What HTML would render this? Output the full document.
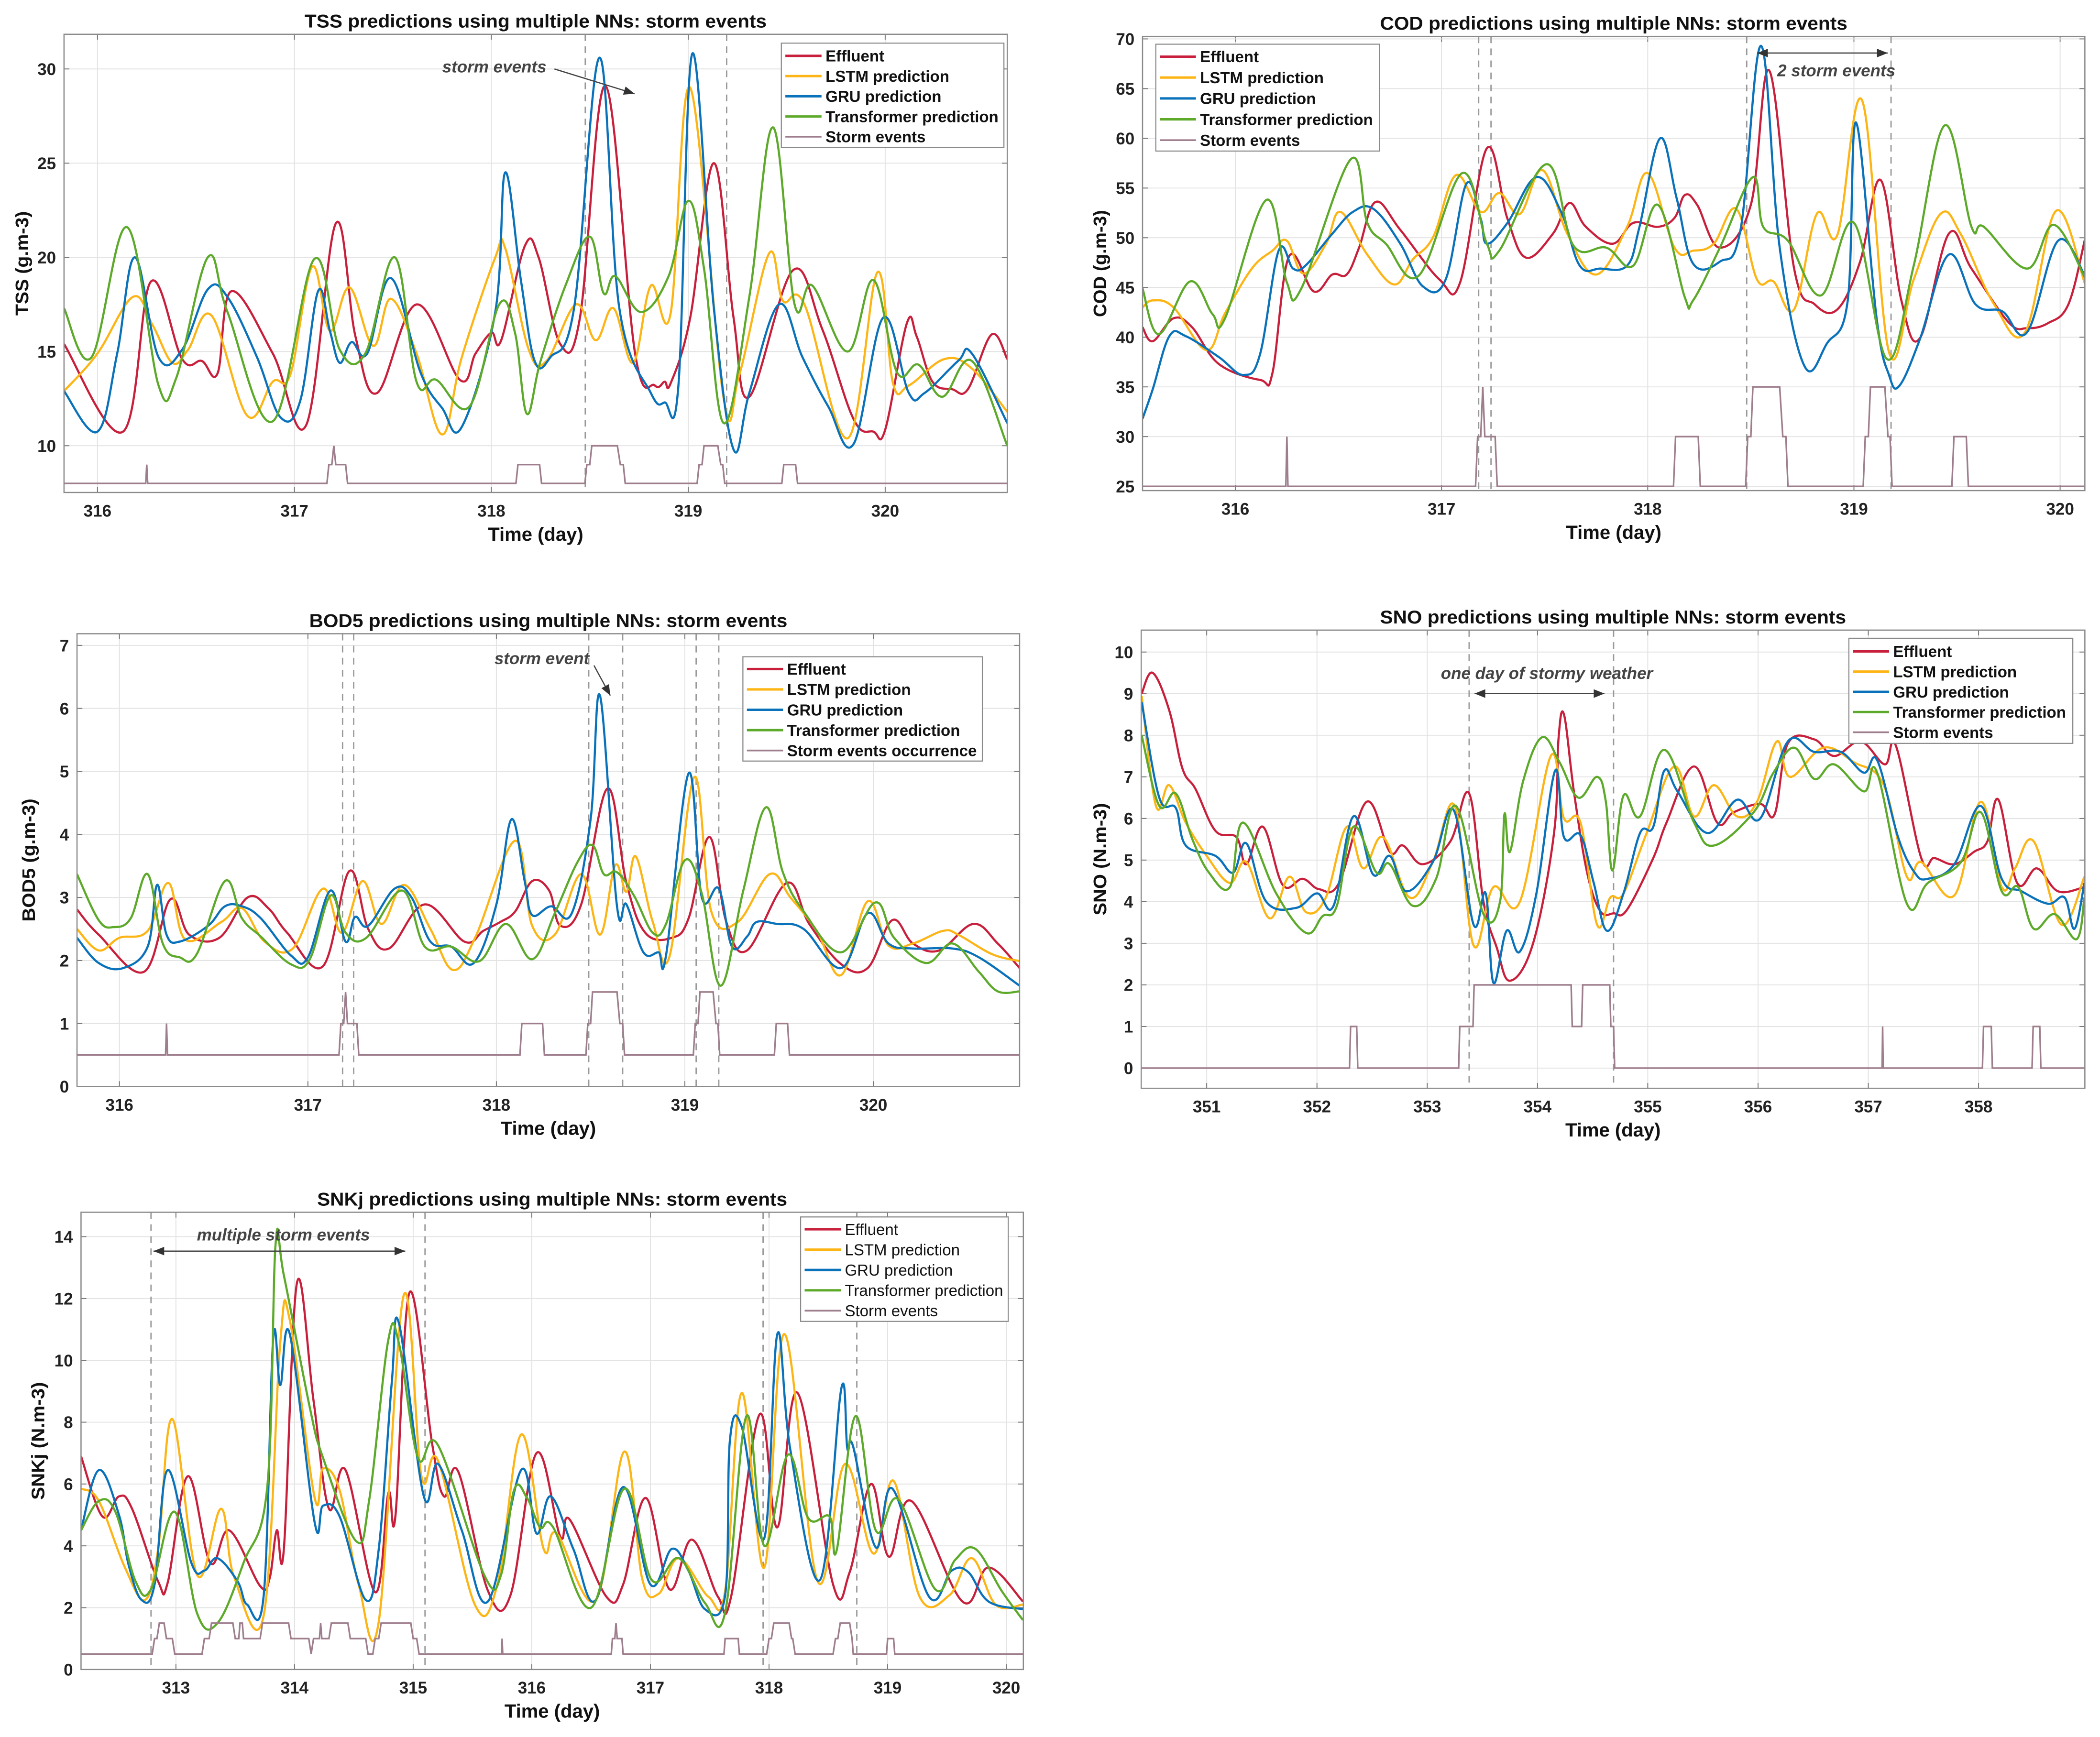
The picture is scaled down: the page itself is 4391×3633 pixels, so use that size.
<!DOCTYPE html>
<html><head><meta charset="utf-8">
<style>
html,body{margin:0;padding:0;background:#fff;}
svg{display:block;}
text{font-family:"Liberation Sans",sans-serif;}
</style></head>
<body>
<svg id="fig" xmlns="http://www.w3.org/2000/svg" width="4391" height="3633" viewBox="0 0 1568 1297.3"></svg>
<script>
// ---------- TSS ----------
const tssEffX=[315.83,316.13,316.27,316.43,316.53,316.61,316.68,316.89,317.06,317.21,317.31,317.42,317.62,317.84,317.92,318.0,318.05,318.17,318.24,318.35,318.45,318.58,318.73,318.83,318.88,318.91,319.01,319.13,319.23,319.31,319.53,319.68,319.84,319.94,320.0,320.11,320.16,320.24,320.34,320.42,320.54,320.62];
const tssEffY=[15.4,10.75,18.7,14.6,14.5,13.85,18.2,14.9,11.1,21.8,15.8,12.8,17.5,13.5,14.9,16.0,15.6,20.6,20.0,15.4,16.8,29.1,14.9,13.2,13.4,13.3,16.8,25.0,16.8,12.6,19.3,16.2,11.4,10.75,10.85,16.5,15.8,13.4,13.0,13.0,15.9,14.6];
const tssLstmX=[315.83,316.0,316.18,316.28,316.38,316.46,316.58,316.76,316.89,316.98,317.09,317.18,317.28,317.4,317.49,317.62,317.75,317.85,318.02,318.07,318.19,318.28,318.43,318.53,318.62,318.72,318.81,318.91,319.01,319.18,319.26,319.41,319.48,319.59,319.81,319.96,320.04,320.12,320.3,320.44,320.62];
const tssLstmY=[12.9,14.9,17.9,16.4,14.4,15.1,16.9,11.6,13.4,13.8,19.5,16.1,18.4,15.3,17.8,14.9,10.6,14.7,20.0,20.5,15.1,14.5,17.5,15.6,17.3,14.4,18.5,17.0,29.0,12.5,13.8,20.2,17.7,17.5,10.4,19.2,13.3,13.2,14.6,14.1,11.8];
const tssGruX=[315.83,316.0,316.1,316.19,316.31,316.43,316.56,316.66,316.81,316.93,317.03,317.12,317.18,317.23,317.29,317.37,317.49,317.64,317.75,317.85,318.02,318.07,318.15,318.22,318.30,318.42,318.55,318.65,318.81,318.88,318.95,319.02,319.13,319.23,319.31,319.46,319.58,319.71,319.84,319.99,320.12,320.2,320.37,320.44,320.62];
const tssGruY=[12.9,10.75,14.9,20.0,14.7,15.1,18.3,17.9,14.7,11.5,12.4,18.2,16.1,14.4,15.5,14.9,18.9,13.9,12.0,11.0,17.1,24.5,18.8,14.5,14.7,17.3,30.6,17.3,12.8,12.3,13.2,30.8,17.3,9.8,12.8,17.5,14.7,12.1,10.1,16.8,12.8,12.8,14.5,14.9,11.2];
const tssTrX=[315.83,315.97,316.15,316.31,316.4,316.56,316.66,316.89,317.1,317.23,317.36,317.51,317.62,317.72,317.89,318.04,318.12,318.18,318.25,318.38,318.5,318.57,318.63,318.76,318.9,319.0,319.08,319.18,319.31,319.43,319.54,319.63,319.81,319.94,320.06,320.17,320.29,320.44,320.62];
const tssTrY=[17.3,14.7,21.6,13.2,13.6,20.0,17.1,11.3,19.9,15.1,14.9,20.0,13.4,13.5,12.1,17.5,16.0,11.7,14.5,18.6,21.1,18.1,19.0,17.1,19.0,23.0,19.4,11.2,17.9,26.9,17.5,18.5,15.0,18.8,13.9,14.3,12.6,14.5,10.0];
// storm occurrence times shared by TSS / COD / BOD5
const stormX=[315.5,316.245,316.25,316.255,317.165,317.175,317.19,317.2,317.21,317.26,317.27,318.125,318.135,318.245,318.255,318.475,318.485,318.5,318.51,318.64,318.655,318.67,318.68,319.045,319.055,319.07,319.08,319.15,319.165,319.175,319.185,319.475,319.485,319.545,319.555,320.8];
const tssStormY=[8,8,9,8,8,9,9,10,9,9,8,8,9,9,8,8,9,9,10,10,9,9,8,8,9,9,10,10,9,9,8,8,9,9,8,8];
const codStormY=[25,25,30,25,25,30,30,35,30,30,25,25,30,30,25,25,30,30,35,35,30,30,25,25,30,30,35,35,30,30,25,25,30,30,25,25];
const bodStormY=[0.5,0.5,1,0.5,0.5,1,1,1.5,1,1,0.5,0.5,1,1,0.5,0.5,1,1,1.5,1.5,1,1,0.5,0.5,1,1,1.5,1.5,1,1,0.5,0.5,1,1,0.5,0.5];
const tssDashX=[318.477,319.195];
const tssYTicks=[10,15,20,25,30];
const tssXTicks=[316,317,318,319,320];

// ---------- COD ----------
const codEffX=[315.55,315.6,315.7,315.79,315.92,316.12,316.18,316.26,316.38,316.47,316.54,316.6,316.68,316.8,316.99,317.09,317.22,317.32,317.41,317.54,317.62,317.7,317.83,317.93,318.05,318.13,318.18,318.24,318.35,318.5,318.59,318.71,318.81,318.92,319.03,319.13,319.23,319.32,319.46,319.57,319.75,319.84,319.94,320.04,320.12];
const codEffY=[41.0,39.6,41.9,41.0,37.3,35.7,36.4,48.1,44.6,46.3,46.3,49.0,53.6,50.8,45.8,45.5,59.0,51.9,48.0,50.4,53.5,51.1,49.4,51.5,51.1,52.0,54.3,53.3,49.0,53.3,66.8,46.9,43.3,42.8,47.6,55.8,43.7,39.9,50.4,46.9,41.5,40.9,41.4,43.3,49.8];
const codLstmX=[315.55,315.6,315.7,315.86,315.95,316.08,316.18,316.25,316.33,316.44,316.51,316.64,316.77,316.86,316.96,317.07,317.19,317.28,317.38,317.49,317.61,317.75,317.9,318.0,318.13,318.22,318.32,318.43,318.53,318.61,318.71,318.82,318.92,319.04,319.17,319.29,319.42,319.52,319.68,319.83,319.98,320.12];
const codLstmY=[43.0,43.7,43.0,38.7,42.4,46.9,48.7,49.7,46.4,49.4,52.6,48.3,45.3,47.8,50.1,56.3,52.6,54.5,52.4,56.8,50.4,46.3,51.1,56.5,49.0,48.7,49.4,52.9,45.8,45.6,42.8,52.4,50.3,63.8,38.5,45.8,52.4,50.3,43.3,40.5,52.7,45.4];
const codGruX=[315.55,315.6,315.68,315.76,315.92,316.04,316.12,316.21,316.28,316.34,316.47,316.57,316.67,316.8,316.91,317.02,317.12,317.19,317.22,317.32,317.46,317.58,317.67,317.77,317.9,317.96,318.06,318.14,318.22,318.35,318.45,318.55,318.64,318.76,318.87,318.97,319.01,319.11,319.17,319.22,319.32,319.46,319.59,319.72,319.84,319.99,320.12];
const codGruY=[31.8,34.8,40.1,40.1,38.0,36.2,38.3,48.7,46.9,47.2,50.4,52.6,52.9,49.4,45.1,45.8,55.4,51.9,49.4,51.5,56.1,52.6,47.2,46.9,47.2,51.1,60.0,54.0,47.4,47.6,50.8,69.3,49.0,37.1,39.4,43.7,61.6,41.9,36.2,35.1,39.8,48.3,43.3,42.6,40.5,49.7,46.2];
const codTrX=[315.55,315.63,315.78,315.89,315.95,316.15,316.25,316.32,316.56,316.64,316.73,316.89,317.1,317.22,317.28,317.51,317.64,317.8,317.93,318.05,318.18,318.22,318.35,318.51,318.56,318.68,318.84,319.0,319.16,319.29,319.44,319.57,319.63,319.84,319.97,320.12];
const codTrY=[44.9,40.3,45.6,42.3,41.9,53.8,45.5,44.9,57.9,51.5,49.4,46.2,56.5,49.4,48.7,57.4,49.2,49.0,47.2,53.3,44.0,43.7,49.0,56.1,51.1,49.7,44.2,51.5,37.8,47.2,61.3,51.1,51.1,46.9,51.3,46.0];
const codDashX=[317.18,317.24,318.48,319.18];
const codYTicks=[25,30,35,40,45,50,55,60,65,70];
const codXTicks=[316,317,318,319,320];

// ---------- BOD5 ----------
const bodEffX=[315.775,315.89,316.13,316.27,316.37,316.53,316.68,316.79,316.89,317.08,317.22,317.32,317.43,317.62,317.83,317.93,318.02,318.1,318.19,318.28,318.34,318.45,318.59,318.69,318.79,318.93,319.02,319.13,319.22,319.33,319.54,319.66,319.83,319.97,320.1,320.21,320.35,320.53,320.66,320.776];
const bodEffY=[2.81,2.41,1.82,2.97,2.41,2.36,3.0,2.83,2.44,1.91,3.42,2.5,2.19,2.89,2.3,2.47,2.61,2.78,3.26,3.11,2.55,2.89,4.73,3.23,2.44,2.36,2.67,3.96,2.61,2.16,3.23,2.58,1.94,1.88,2.64,2.27,2.16,2.58,2.27,1.88];
const bodLstmX=[315.775,315.89,316.0,316.15,316.26,316.35,316.54,316.65,316.77,316.92,317.08,317.18,317.29,317.39,317.51,317.65,317.77,317.89,318.1,318.19,318.31,318.45,318.55,318.63,318.69,318.74,318.83,318.92,319.05,319.14,319.28,319.45,319.56,319.7,319.83,319.97,320.08,320.21,320.37,320.45,320.63,320.776];
const bodLstmY=[2.5,2.16,2.36,2.47,3.23,2.33,2.61,2.83,2.3,2.19,3.14,2.44,3.26,2.58,3.2,2.5,1.85,2.38,3.9,2.55,2.41,3.37,2.41,3.51,3.09,3.65,2.61,2.08,4.91,2.78,2.61,3.37,3.0,2.47,1.77,2.94,2.24,2.27,2.47,2.41,2.1,1.99];
const bodGruX=[315.775,315.89,316.02,316.15,316.2,316.25,316.32,316.47,316.56,316.65,316.75,316.91,317.0,317.12,317.2,317.25,317.32,317.46,317.55,317.65,317.76,317.88,318.0,318.08,318.15,318.19,318.29,318.4,318.5,318.55,318.64,318.69,318.78,318.86,318.9,319.02,319.09,319.18,319.25,319.33,319.38,319.49,319.63,319.83,319.97,320.08,320.21,320.42,320.56,320.776];
const bodGruY=[2.36,1.96,1.88,2.22,3.2,2.41,2.3,2.55,2.86,2.86,2.67,2.08,2.05,3.11,2.3,2.69,2.55,3.14,3.0,2.3,2.22,1.96,2.89,4.24,3.26,2.72,2.86,2.75,4.24,6.2,2.86,2.89,2.13,2.13,2.08,4.97,3.0,3.14,2.22,2.38,2.61,2.58,2.5,1.88,2.75,2.27,2.19,2.19,2.05,1.6];
const bodTrX=[315.775,315.89,315.97,316.06,316.15,316.23,316.32,316.41,316.56,316.65,316.75,316.91,317.01,317.12,317.2,317.31,317.5,317.62,317.76,317.91,318.05,318.19,318.31,318.43,318.51,318.57,318.64,318.73,318.83,318.9,319.0,319.09,319.19,319.31,319.43,319.52,319.63,319.83,320.01,320.11,320.28,320.42,320.56,320.66,320.776];
const bodTrY=[3.37,2.64,2.53,2.67,3.37,2.27,2.05,2.1,3.26,2.67,2.38,1.94,2.02,3.03,2.44,2.36,3.11,2.22,2.22,1.99,2.58,2.02,2.75,3.56,3.83,3.37,3.4,3.03,2.44,2.58,3.59,3.06,1.6,3.11,4.43,3.4,2.78,2.13,2.92,2.36,1.96,2.27,1.82,1.51,1.51];
const bodDashX=[317.184,317.243,318.49,318.67,319.06,319.18];
const bodYTicks=[0,1,2,3,4,5,6,7];
const bodXTicks=[316,317,318,319,320];

// ---------- SNO ----------
const snoEffX=[350.41,350.51,350.66,350.78,350.9,351.08,351.27,351.36,351.51,351.69,351.87,352.02,352.2,352.45,352.66,352.78,352.96,353.21,353.38,353.51,353.63,353.75,353.96,354.15,354.19,354.24,354.33,354.45,354.57,354.69,354.81,355.05,355.17,355.42,355.63,355.78,356.02,356.15,356.27,356.51,356.69,356.93,357.15,357.25,357.48,357.6,357.78,357.96,358.08,358.18,358.35,358.53,358.72,358.96];
const snoEffY=[9.0,9.5,8.6,7.2,6.7,5.7,5.55,4.9,5.8,4.4,4.55,4.3,4.45,6.4,5.2,5.35,4.9,5.45,6.6,4.0,2.9,2.1,3.0,5.65,7.9,8.5,6.65,4.7,3.77,3.72,3.8,5.05,5.9,7.25,5.9,6.15,6.35,6.1,7.8,7.9,7.5,7.85,7.3,7.75,5.05,5.05,4.9,5.2,5.45,6.45,4.45,4.8,4.25,4.35];
const snoLstmX=[350.41,350.54,350.66,350.81,351.0,351.21,351.36,351.57,351.75,351.9,352.08,352.27,352.42,352.6,352.84,353.05,353.25,353.42,353.6,353.84,354.12,354.24,354.39,354.54,354.66,354.78,354.99,355.24,355.42,355.6,355.81,355.99,356.17,356.29,356.59,356.87,357.14,357.35,357.48,357.78,358.02,358.21,358.33,358.5,358.75,358.96];
const snoLstmY=[8.95,6.3,6.8,5.9,5.1,4.45,4.95,3.6,4.6,3.75,4.1,5.8,4.8,5.55,4.1,4.95,6.3,2.95,4.35,4.0,7.5,6.0,5.9,3.45,4.1,4.2,5.65,7.25,6.05,6.8,6.05,6.4,7.85,7.0,7.7,7.35,6.8,4.6,4.95,4.15,6.4,4.35,4.8,5.45,3.45,4.6];
const snoGruX=[350.41,350.57,350.72,350.81,351.08,351.24,351.36,351.54,351.81,352.0,352.15,352.33,352.51,352.66,352.81,353.05,353.24,353.42,353.53,353.6,353.72,353.84,353.99,354.16,354.24,354.39,354.51,354.63,354.78,354.93,355.05,355.15,355.27,355.54,355.81,356.02,356.27,356.51,356.75,356.96,357.08,357.27,357.42,357.54,357.78,358.02,358.21,358.39,358.63,358.78,358.87,358.96];
const snoGruY=[8.8,6.5,6.25,5.35,5.1,4.7,5.4,4.0,3.85,4.2,3.9,6.05,4.65,5.1,4.25,4.95,6.2,3.45,4.2,2.05,3.3,2.8,4.2,7.15,5.55,5.6,4.45,3.3,4.2,5.65,5.8,7.15,6.65,5.65,6.45,6.0,7.85,7.6,7.6,7.1,7.4,5.55,4.7,4.55,4.9,6.3,4.55,4.25,3.95,4.1,3.35,4.45];
const snoTrX=[350.41,350.57,350.72,350.87,351.02,351.21,351.33,351.63,351.9,352.05,352.18,352.33,352.54,352.66,352.87,353.08,353.26,353.51,353.66,353.7,353.75,353.87,354.04,354.2,354.37,354.54,354.62,354.68,354.78,354.93,355.15,355.42,355.6,355.96,356.14,356.33,356.51,356.69,356.96,357.08,357.35,357.54,357.84,358.02,358.21,358.36,358.5,358.69,358.89,358.96];
const snoTrY=[8.0,6.3,6.6,5.5,4.7,4.35,5.9,4.2,3.25,3.65,3.9,5.8,4.7,4.9,3.9,4.55,6.3,3.7,4.0,6.1,5.2,6.9,7.95,7.35,6.5,7.0,6.4,4.75,6.55,6.05,7.65,5.9,5.35,6.15,7.1,7.7,6.95,7.3,6.65,7.1,3.95,4.45,4.95,6.15,4.25,4.35,3.35,3.7,3.1,4.1];
const snoStormX=[350.4,352.295,352.305,352.36,352.37,353.285,353.295,353.415,353.425,354.305,354.315,354.4,354.41,354.655,354.665,354.69,354.70,357.125,357.13,357.135,358.035,358.045,358.115,358.125,358.485,358.495,358.555,358.565,359];
const snoStormY=[0,0,1,1,0,0,1,1,2,2,1,1,2,2,1,1,0,0,1,0,0,1,1,0,0,1,1,0,0];
const snoDashX=[353.38,354.69];
const snoYTicks=[0,1,2,3,4,5,6,7,8,9,10];
const snoXTicks=[351,352,353,354,355,356,357,358];

// ---------- SNKj ----------
const snkEffX=[312.2,312.38,312.52,312.63,312.85,312.93,313.1,313.29,313.45,313.71,313.79,313.85,313.91,314.02,314.16,314.29,314.43,314.68,314.79,314.85,314.97,315.16,315.26,315.38,315.63,315.82,316.04,316.24,316.32,316.63,316.77,316.96,317.16,317.35,317.57,317.68,317.92,318.07,318.24,318.54,318.68,318.86,319.01,319.2,319.63,319.85,320.14];
const snkEffY=[6.9,4.95,5.6,5.2,2.85,2.8,6.25,3.45,4.5,2.7,2.95,4.5,3.9,12.5,8.7,5.2,6.45,2.5,5.7,4.95,12.2,7.3,5.6,6.4,2.55,2.4,7.0,4.3,4.85,2.35,2.75,5.55,2.6,4.2,2.35,2.35,8.25,4.6,8.95,2.75,3.15,6.0,3.65,5.45,2.2,3.3,2.2];
const snkLstmX=[312.2,312.35,312.57,312.74,312.85,312.97,313.18,313.38,313.49,313.74,313.88,313.96,314.17,314.24,314.38,314.54,314.71,314.92,315.07,315.21,315.52,315.71,315.91,316.1,316.21,316.54,316.78,316.93,317.07,317.24,317.49,317.63,317.77,317.96,318.13,318.41,318.64,318.88,319.05,319.27,319.52,319.71,319.91,320.14];
const snkLstmY=[5.85,5.45,3.3,2.25,3.9,8.1,3.05,5.2,3.0,1.75,10.6,11.3,5.55,6.5,5.8,2.75,1.55,12.1,6.25,6.75,2.1,2.75,7.6,3.9,4.4,2.25,7.05,2.95,2.45,3.6,2.35,2.55,8.95,3.3,10.85,2.85,6.65,3.75,6.1,2.35,2.4,3.6,2.1,2.1];
const snkGruX=[312.2,312.35,312.52,312.6,312.71,312.82,312.93,313.13,313.24,313.35,313.52,313.6,313.74,313.82,313.88,313.96,314.17,314.24,314.38,314.6,314.71,314.82,314.88,315.09,315.21,315.41,315.63,315.91,316.04,316.16,316.35,316.54,316.77,317.0,317.18,317.32,317.46,317.63,317.67,317.77,317.96,318.07,318.18,318.43,318.61,318.66,318.71,318.9,319.04,319.35,319.54,319.68,319.85,320.14];
const snkGruY=[4.5,6.45,5.0,3.4,2.25,2.75,6.45,3.45,3.2,3.6,2.85,2.1,2.4,10.7,9.2,10.85,4.75,5.3,4.95,2.25,3.9,9.3,11.2,5.6,6.65,4.5,2.2,6.45,4.4,5.6,3.9,2.25,5.9,2.75,3.9,3.2,1.95,2.4,7.4,7.85,4.25,10.85,7.1,2.9,9.1,7.15,7.2,3.95,5.85,2.35,3.2,3.15,2.2,1.95];
const snkTrX=[312.2,312.35,312.49,312.66,312.79,312.99,313.18,313.35,313.57,313.77,313.84,313.91,314.13,314.24,314.52,314.63,314.79,314.88,315.04,315.21,315.6,315.74,315.85,315.96,316.07,316.18,316.5,316.78,317.01,317.24,317.46,317.63,317.81,317.96,318.16,318.33,318.51,318.57,318.73,318.9,319.09,319.4,319.57,319.74,319.96,320.14];
const snkTrY=[4.5,5.45,5.1,2.85,2.6,5.1,1.8,1.5,3.45,5.9,13.75,12.75,8.45,6.85,4.15,5.5,10.65,10.55,6.85,7.25,3.05,3.05,5.8,5.55,4.6,4.6,2.0,5.85,2.9,3.6,2.15,1.85,8.2,4.0,6.95,4.9,4.95,3.85,8.2,4.5,5.5,2.6,3.55,3.9,2.55,1.6];
const snkStormX=[312.2,312.8,312.82,312.84,312.86,312.9,312.92,312.97,312.99,313.22,313.24,313.28,313.3,313.48,313.5,313.53,313.54,313.56,313.57,313.71,313.73,313.95,313.97,314.12,314.14,314.16,314.21,314.22,314.23,314.29,314.31,314.45,314.47,314.6,314.62,314.66,314.68,314.71,314.73,314.98,315.0,315.03,315.05,315.745,315.75,315.755,316.67,316.68,316.7,316.71,316.72,316.76,316.77,317.62,317.63,317.74,317.75,317.98,318.0,318.02,318.04,318.17,318.19,318.2,318.22,318.54,318.56,318.58,318.6,318.68,318.7,318.71,318.99,319.0,319.05,319.06,320.2];
const snkStormY=[0.5,0.5,1,1,1.5,1.5,1,1,0.5,0.5,1,1,1.5,1.5,1,1,1.5,1.5,1,1,1.5,1.5,1,1,0.5,1,1,1.5,1,1,1.5,1.5,1,1,0.5,0.5,1,1,1.5,1.5,1,1,0.5,0.5,1,0.5,0.5,1,1,1.5,1,1,0.5,0.5,1,1,0.5,0.5,1,1,1.5,1.5,1,1,0.5,0.5,1,1,1.5,1.5,1,0.5,0.5,1,1,0.5,0.5];
const snkDashX=[312.79,315.1,317.95,318.74];
const snkYTicks=[0,2,4,6,8,10,12,14];
const snkXTicks=[313,314,315,316,317,318,319,320];

const C={eff:"#C8203C",lstm:"#FDB515",gru:"#0A72BA",tr:"#5DAA2B",storm:"#9E7D8C"};
const NS="http://www.w3.org/2000/svg";
const svg=document.getElementById('fig');
function mk(tag,attrs,parent,txt){const e=document.createElementNS(NS,tag);for(const k in attrs)e.setAttribute(k,attrs[k]);if(txt!==undefined)e.textContent=txt;(parent||svg).appendChild(e);return e;}
function smooth(pts){
  if(pts.length<2)return "";
  let d="M"+pts[0][0].toFixed(2)+","+pts[0][1].toFixed(2);
  for(let i=0;i<pts.length-1;i++){
    const p0=pts[Math.max(0,i-1)],p1=pts[i],p2=pts[i+1],p3=pts[Math.min(pts.length-1,i+2)];
    const t=0.18;
    const c1x=p1[0]+(p2[0]-p0[0])*t,c1y=p1[1]+(p2[1]-p0[1])*t;
    const c2x=p2[0]-(p3[0]-p1[0])*t,c2y=p2[1]-(p3[1]-p1[1])*t;
    d+=" C"+c1x.toFixed(2)+","+c1y.toFixed(2)+" "+c2x.toFixed(2)+","+c2y.toFixed(2)+" "+p2[0].toFixed(2)+","+p2[1].toFixed(2);
  }
  return d;
}
let clipN=0;
function panel(cfg){
  const g=mk('g',{});
  
  
  const sx=d=>cfg.L+(d-cfg.x0)/(cfg.x1-cfg.x0)*(cfg.R-cfg.L);
  const sy=v=>cfg.B-(v-cfg.y0)/(cfg.y1-cfg.y0)*(cfg.B-cfg.T);
  mk('rect',{x:cfg.L,y:cfg.T,width:cfg.R-cfg.L,height:cfg.B-cfg.T,fill:"#fff"},g);
  // grid
  cfg.xt.forEach(t=>{const l=mk('line',{x1:sx(t),x2:sx(t),y1:cfg.T,y2:cfg.B,stroke:"#e3e3e3","stroke-width":0.7},g);
    
    const tx=mk('text',{x:sx(t),y:cfg.B+18,"text-anchor":"middle","font-size":12.5,"font-weight":"bold",fill:"#222"},g,String(t));
    
    mk('line',{x1:sx(t),x2:sx(t),y1:cfg.B,y2:cfg.B-4,stroke:"#777","stroke-width":0.7},g);
    mk('line',{x1:sx(t),x2:sx(t),y1:cfg.T,y2:cfg.T+4,stroke:"#777","stroke-width":0.7},g);
  });
  cfg.yt.forEach(t=>{const l=mk('line',{x1:cfg.L,x2:cfg.R,y1:sy(t),y2:sy(t),stroke:"#e3e3e3","stroke-width":0.7},g);
    
    const tx=mk('text',{x:cfg.L-6,y:sy(t)+4.5,"text-anchor":"end","font-size":12.5,"font-weight":"bold",fill:"#222"},g,String(t));
    
    mk('line',{x1:cfg.L,x2:cfg.L+4,y1:sy(t),y2:sy(t),stroke:"#777","stroke-width":0.7},g);
    mk('line',{x1:cfg.R,x2:cfg.R-4,y1:sy(t),y2:sy(t),stroke:"#777","stroke-width":0.7},g);
  });
  const cid="clip"+(clipN++);
  const cp=mk('clipPath',{id:cid},g);mk('rect',{x:cfg.L,y:cfg.T,width:cfg.R-cfg.L,height:cfg.B-cfg.T},cp);
  const pg=mk('g',{"clip-path":"url(#"+cid+")"},g);
  cfg.dash.forEach(d=>{const l=mk('line',{x1:sx(d),x2:sx(d),y1:cfg.T,y2:cfg.B,stroke:"#999","stroke-width":1,"stroke-dasharray":"5,4"},pg);
    });
  cfg.series.forEach(s=>{
    const pts=s.x.map((d,i)=>[sx(d),sy(s.y[i])]);
    const p=mk('path',{d:smooth(pts),fill:"none",stroke:s.c,"stroke-width":1.6,"stroke-linejoin":"round"},pg);
    
    
  });
  const sp=cfg.storm.x.map((d,i)=>(i?"L":"M")+sx(d).toFixed(2)+","+sy(cfg.storm.y[i]).toFixed(2)).join(" ");
  const st=mk('path',{d:sp,fill:"none",stroke:C.storm,"stroke-width":1.2},pg);
  
  
  mk('rect',{x:cfg.L,y:cfg.T,width:cfg.R-cfg.L,height:cfg.B-cfg.T,fill:"none",stroke:"#8a8a8a","stroke-width":0.9},g);
  const ti=mk('text',{x:(cfg.L+cfg.R)/2,y:cfg.T-5,"text-anchor":"middle","font-size":14,"font-weight":"bold",fill:"#111",textLength:cfg.tw,lengthAdjust:"spacingAndGlyphs"},g,cfg.title);
  
  const xl=mk('text',{x:(cfg.L+cfg.R)/2,y:cfg.B+36,"text-anchor":"middle","font-size":14.3,"font-weight":"bold",fill:"#111"},g,"Time (day)");
  
  const yc=(cfg.T+cfg.B)/2;
  const yl=mk('text',{x:cfg.ylx,y:yc,"text-anchor":"middle","font-size":13.5,"font-weight":"bold",fill:"#111",transform:"rotate(-90 "+cfg.ylx+" "+yc+")",textLength:cfg.ylw,lengthAdjust:"spacingAndGlyphs"},g,cfg.ylabel);
  
  // legend
  const lg=cfg.leg;
  const lgG=mk('g',{},g);
  
  mk('rect',{x:lg.x,y:lg.y,width:lg.w,height:lg.h,fill:"#fff",stroke:"#8a8a8a","stroke-width":0.8},lgG);
  const cols=[C.eff,C.lstm,C.gru,C.tr,C.storm];
  lg.labels.forEach((lab,i)=>{
    const yy=lg.y+lg.e0+i*lg.dy;
    mk('line',{x1:lg.x+3,x2:lg.x+30,y1:yy,y2:yy,stroke:cols[i],"stroke-width":i==4?1.3:1.8},lgG);
    const t=mk('text',{x:lg.x+33,y:yy+4.2,"font-size":lg.fs,"font-weight":lg.bold?"bold":"normal",fill:"#111"},lgG,lab);
    
  });
  return {sx,sy,g};
}
function arrowHead(g,x,y,ang){const a=ang,s=8,w=3.2;
  const p1=[x-s*Math.cos(a)+w*Math.sin(a),y-s*Math.sin(a)-w*Math.cos(a)],p2=[x-s*Math.cos(a)-w*Math.sin(a),y-s*Math.sin(a)+w*Math.cos(a)];
  mk('path',{d:`M${x},${y} L${p1[0]},${p1[1]} L${p2[0]},${p2[1]}Z`,fill:"#333"},g);}
function arrow(g,x1,y1,x2,y2,both){mk('line',{x1,y1,x2,y2,stroke:"#444","stroke-width":0.9},g);
  const a=Math.atan2(y2-y1,x2-x1);arrowHead(g,x2,y2,a);if(both)arrowHead(g,x1,y1,a+Math.PI);}
function note(g,x,y,anchor,txt){const t=mk('text',{x,y,"text-anchor":anchor,"font-size":12.5,"font-weight":"bold","font-style":"italic",fill:"#444"},g,txt);
  }

const legStd=["Effluent","LSTM prediction","GRU prediction","Transformer prediction","Storm events"];
// TSS
let P=panel({name:"tss",L:47.8,R:752.1,T:25.6,B:367.8,x0:315.83,x1:320.62,y0:7.52,y1:31.84,xt:tssXTicks,yt:tssYTicks,dash:tssDashX,
  title:"TSS predictions using multiple NNs: storm events",tw:345,ylabel:"TSS (g.m-3)",ylx:21,ylw:78,
  series:[{n:"effluent",x:tssEffX,y:tssEffY,c:C.eff},{n:"lstm",x:tssLstmX,y:tssLstmY,c:C.lstm},{n:"gru",x:tssGruX,y:tssGruY,c:C.gru},{n:"transformer",x:tssTrX,y:tssTrY,c:C.tr}],
  storm:{x:stormX,y:tssStormY},leg:{x:583.4,y:32.2,w:166.2,h:78,e0:9.5,dy:15.1,fs:11.8,bold:true,labels:legStd}});
note(P.g,408,54,"end","storm events");arrow(P.g,414,51.5,473.8,70,false);
// COD
P=panel({name:"cod",L:853.1,R:1556.7,T:27.2,B:366.4,x0:315.55,x1:320.12,y0:24.57,y1:70.25,xt:codXTicks,yt:codYTicks,dash:codDashX,
  title:"COD predictions using multiple NNs: storm events",tw:349,ylabel:"COD (g.m-3)",ylx:826,ylw:80,
  series:[{n:"effluent",x:codEffX,y:codEffY,c:C.eff},{n:"lstm",x:codLstmX,y:codLstmY,c:C.lstm},{n:"gru",x:codGruX,y:codGruY,c:C.gru},{n:"transformer",x:codTrX,y:codTrY,c:C.tr}],
  storm:{x:stormX,y:codStormY},leg:{x:863,y:33,w:167,h:79.8,e0:9.3,dy:15.6,fs:11.8,bold:true,labels:legStd}});
note(P.g,1327,57,"start","2 storm events");arrow(P.g,1312,39.6,1409.5,39.6,true);
// BOD5
P=panel({name:"bod5",L:57.5,R:761.3,T:473.3,B:811.5,x0:315.775,x1:320.776,y0:0,y1:7.185,xt:bodXTicks,yt:bodYTicks,dash:bodDashX,
  title:"BOD5 predictions using multiple NNs: storm events",tw:357,ylabel:"BOD5 (g.m-3)",ylx:26,ylw:92,
  series:[{n:"effluent",x:bodEffX,y:bodEffY,c:C.eff},{n:"lstm",x:bodLstmX,y:bodLstmY,c:C.lstm},{n:"gru",x:bodGruX,y:bodGruY,c:C.gru},{n:"transformer",x:bodTrX,y:bodTrY,c:C.tr}],
  storm:{x:stormX,y:bodStormY},leg:{x:554.7,y:490.5,w:178.8,h:77.9,e0:9.2,dy:15.2,fs:11.8,bold:true,labels:["Effluent","LSTM prediction","GRU prediction","Transformer prediction","Storm events occurrence"]}});
note(P.g,440,496,"end","storm event");arrow(P.g,443.5,497,455.7,519.5,false);
// SNO
P=panel({name:"sno",L:852.1,R:1556.7,T:470.6,B:812.8,x0:350.406,x1:358.964,y0:-0.485,y1:10.527,xt:snoXTicks,yt:snoYTicks,dash:snoDashX,
  title:"SNO predictions using multiple NNs: storm events",tw:348,ylabel:"SNO (N.m-3)",ylx:826,ylw:84,
  series:[{n:"effluent",x:snoEffX,y:snoEffY,c:C.eff},{n:"lstm",x:snoLstmX,y:snoLstmY,c:C.lstm},{n:"gru",x:snoGruX,y:snoGruY,c:C.gru},{n:"transformer",x:snoTrX,y:snoTrY,c:C.tr}],
  storm:{x:snoStormX,y:snoStormY},leg:{x:1380.5,y:476.7,w:167.2,h:78.5,e0:9.8,dy:15.1,fs:11.8,bold:true,labels:legStd}});
note(P.g,1155,507,"middle","one day of stormy weather");arrow(P.g,1101,518,1198,518,true);
// SNKj
P=panel({name:"snkj",L:60.5,R:764.1,T:905.4,B:1246.9,x0:312.2,x1:320.144,y0:0,y1:14.79,xt:snkXTicks,yt:snkYTicks,dash:snkDashX,
  title:"SNKj predictions using multiple NNs: storm events",tw:351,ylabel:"SNKj (N.m-3)",ylx:33,ylw:88,
  series:[{n:"effluent",x:snkEffX,y:snkEffY,c:C.eff},{n:"lstm",x:snkLstmX,y:snkLstmY,c:C.lstm},{n:"gru",x:snkGruX,y:snkGruY,c:C.gru},{n:"transformer",x:snkTrX,y:snkTrY,c:C.tr}],
  storm:{x:snkStormX,y:snkStormY},leg:{x:597.8,y:908.9,w:155,h:78,e0:9.2,dy:15.2,fs:11.8,bold:false,labels:legStd}});
note(P.g,211.6,926.5,"middle","multiple storm events");arrow(P.g,114.6,934.4,302.6,934.4,true);
</script>
</body></html>
